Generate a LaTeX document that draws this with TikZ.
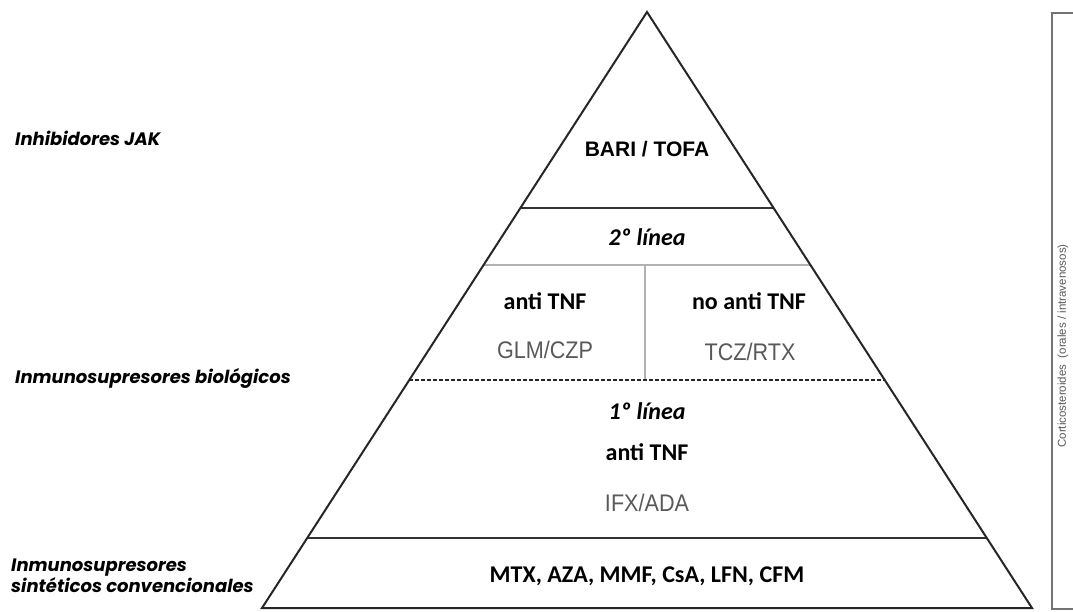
\documentclass[tikz,border=0pt]{standalone}
\usepackage{fontspec}
\setmainfont{Liberation Sans}
\newfontfamily\calibf{Carlito}
\newfontfamily\narrowf[FakeStretch=0.9]{Liberation Sans}
\newfontfamily\geomf{Poppins}
\usetikzlibrary{positioning,calc}
\tikzset{
  side/.style   = {draw=black!85, line width=2pt, line join=miter},
  tier/.style   = {draw=black!80, line width=2.2pt},
  split/.style  = {draw=black!30, line width=1.2pt},
  cut/.style    = {draw=black!85, line width=2.2pt, dash pattern=on 4pt off 2pt},
  brace/.style  = {draw=black!55, line width=1.8pt},
  top/.style    = {font=\bfseries\fontsize{21}{24}\selectfont},
  head/.style   = {font=\calibf\bfseries\fontsize{24}{28}\selectfont},
  stage/.style  = {font=\calibf\bfseries\itshape\fontsize{24}{28}\selectfont},
  drug/.style   = {font=\narrowf\fontsize{24}{28}\selectfont, text=black!65},
  group/.style  = {font=\geomf\bfseries\itshape\fontsize{18}{21}\selectfont,
                   anchor=west, align=left, inner sep=0pt},
  sidenote/.style = {font=\fontsize{11.5}{13}\selectfont, text=black!65, rotate=90}
}

\begin{document}
\begin{tikzpicture}[x=1pt,y=-1pt]
  \useasboundingbox (0,0) rectangle (1073,611);
  % pyramid
  \coordinate (apex) at (647,12);
  \coordinate (bl) at (262,608);
  \coordinate (br) at (1032,608);
  \coordinate (l1) at ($(apex)!0.3289!(bl)$);
  \coordinate (r1) at ($(apex)!0.3289!(br)$);
  \coordinate (l2) at ($(apex)!0.4245!(bl)$);
  \coordinate (r2) at ($(apex)!0.4245!(br)$);
  \coordinate (l3) at ($(apex)!0.6174!(bl)$);
  \coordinate (r3) at ($(apex)!0.6174!(br)$);
  \coordinate (l4) at ($(apex)!0.8826!(bl)$);
  \coordinate (r4) at ($(apex)!0.8826!(br)$);
  \coordinate (mid2) at (645,265);
  \coordinate (mid3) at (645,380);
  \draw[split] (l2) -- (r2);
  \draw[split] (mid2) -- (mid3);
  \draw[cut] (l3) -- (r3);
  \draw[tier] (l1) -- (r1);
  \draw[tier] (l4) -- (r4);
  \draw[side] (apex) -- (bl) -- (br) -- cycle;

  % texts inside
  \node[top]   (jak)    at (647,149) {BARI / TOFA};
  \node[stage] (dos)    at (647,237) {2º línea};
  \node[head]  (anti)   at (545,301) {anti TNF};
  \node[drug]  (glm)    at (545,350) {GLM/CZP};
  \node[head]  (noanti) at (749,301) {no anti TNF};
  \node[drug]  (tcz)    at (750,352) {TCZ/RTX};
  \node[stage] (uno)    at (647,411) {1º línea};
  \node[head]  (anti1)  at (647,452) {anti TNF};
  \node[drug]  (ifx)    at (647,503) {IFX/ADA};
  \node[head]  (csd)    at (647,576) {MTX, AZA, MMF, CsA, LFN, CFM};

  % groups on the left
  \node[group] (ljak)  at (15,138) {Inhibidores JAK};
  \node[group] (lbio)  at (15,378) {Inmunosupresores biológicos};
  \node[group] (lsint) at (11,576) {Inmunosupresores\\sintéticos convencionales};

  % corticosteroids bracket
  \draw[brace] (1073,13) -- (1052,13) -- (1052,609) -- (1073,609);
  \node[sidenote] (cort) at (1063,346) {Corticosteroides\ \ (orales / intravenosos)};
\end{tikzpicture}
\end{document}
